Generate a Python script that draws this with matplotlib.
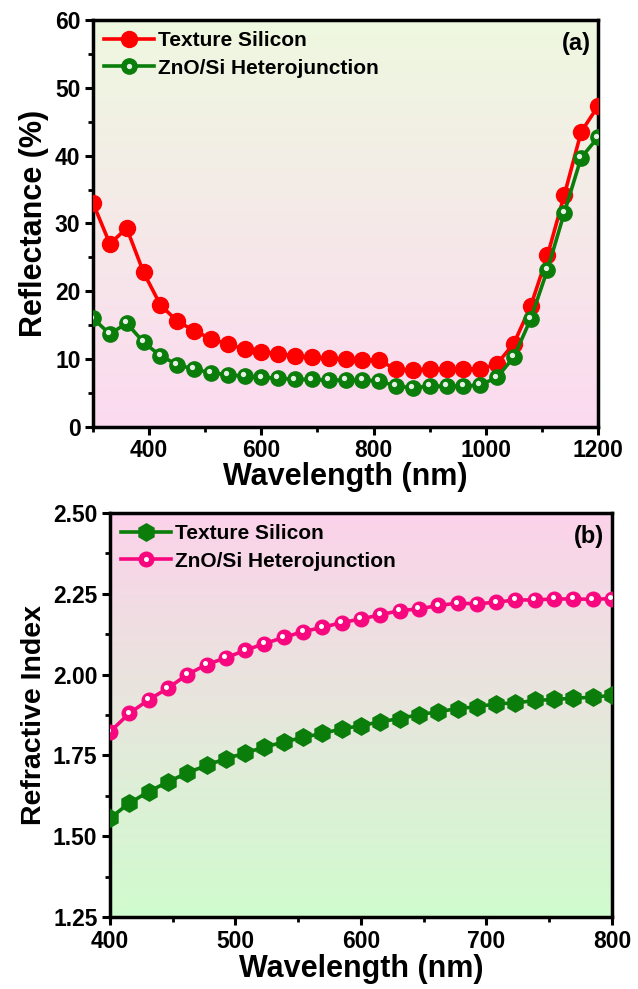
import numpy as np
import matplotlib
matplotlib.use("Agg")
import matplotlib.pyplot as plt
from matplotlib.colors import LinearSegmentedColormap
from matplotlib.legend_handler import HandlerTuple
from matplotlib.ticker import MultipleLocator
import matplotlib.transforms as mtransforms

plt.rcParams['font.family'] = ['Liberation Sans', 'DejaVu Sans']
plt.rcParams['font.weight'] = 'bold'

# (a) reflectance data
wl_a = [300, 330, 360, 390, 420, 450, 480, 510, 540, 570, 600, 630, 660, 690, 720, 750,
        780, 810, 840, 870, 900, 930, 960, 990, 1020, 1050, 1080, 1110, 1140, 1170, 1200]
refl_texture = [33.0, 27.0, 29.3, 22.8, 18.0, 15.6, 14.2, 13.0, 12.2, 11.5, 11.1, 10.8, 10.5,
                10.3, 10.1, 10.0, 9.9, 9.8, 8.5, 8.4, 8.5, 8.5, 8.5, 8.5, 9.3, 12.3, 17.8,
                25.3, 34.2, 43.5, 47.3]
refl_zno = [16.0, 13.7, 15.3, 12.5, 10.5, 9.2, 8.5, 8.0, 7.7, 7.5, 7.3, 7.2, 7.0, 7.0, 6.9,
            6.9, 6.9, 6.8, 6.0, 5.8, 6.0, 6.0, 6.0, 6.2, 7.3, 10.3, 15.9, 23.2, 31.6, 39.7, 42.7]

# (b) refractive index data
wl_b = np.linspace(400, 800, 27)
n_texture = [1.556, 1.602, 1.638, 1.668, 1.696, 1.719, 1.740, 1.757, 1.776, 1.791, 1.806,
             1.818, 1.832, 1.842, 1.854, 1.864, 1.876, 1.885, 1.895, 1.900, 1.910, 1.912,
             1.920, 1.923, 1.927, 1.930, 1.936]
n_zno = [1.823, 1.880, 1.922, 1.958, 2.000, 2.031, 2.052, 2.075, 2.096, 2.115, 2.133, 2.146,
         2.161, 2.172, 2.185, 2.198, 2.203, 2.214, 2.221, 2.219, 2.224, 2.231, 2.231, 2.234,
         2.234, 2.233, 2.235]

RED = '#FF0000'
GREEN = '#0A7D0A'
PINK = '#F7087F'


def gradient_bg(ax, top, bottom):
    cmap = LinearSegmentedColormap.from_list('bg', [bottom, top])
    grad = np.linspace(0, 1, 256).reshape(-1, 1)
    ax.imshow(grad, cmap=cmap, aspect='auto', extent=[0, 1, 0, 1],
              transform=ax.transAxes, origin='lower', zorder=0)


def style_axes(ax):
    for s in ax.spines.values():
        s.set_linewidth(2.5)
    ax.tick_params(which='major', direction='out', length=6, width=2.2,
                   labelsize=16.5, pad=3)
    ax.tick_params(which='minor', direction='out', length=3.5, width=2)
    for lab in ax.get_xticklabels() + ax.get_yticklabels():
        lab.set_fontweight('bold')


fig = plt.figure(figsize=(6.38, 9.89), dpi=100)
leg_kw = dict(handler_map={tuple: HandlerTuple(ndivide=1)}, loc='upper left',
              frameon=False, handlelength=2.4, handletextpad=0.15,
              borderaxespad=0.15, labelspacing=0.4, numpoints=1,
              prop={'weight': 'bold', 'size': 15})

# ---------- panel (a)
ax1 = fig.add_axes([0.1458, 0.5683, 0.7915, 0.4115])
gradient_bg(ax1, '#EEF8E0', '#FCDAF0')
hl = mtransforms.offset_copy(ax1.transData, fig=fig, x=-1.3, y=1.3, units='points')

l1, = ax1.plot(wl_a, refl_texture, '-o', color=RED, lw=2.6, ms=11.5, zorder=3)
l2, = ax1.plot(wl_a, refl_zno, '-o', color=GREEN, lw=2.6, ms=11, zorder=4)
d2, = ax1.plot(wl_a, refl_zno, 'o', color='white', ms=3.8, mec='none', alpha=0.9,
               transform=hl, zorder=5)
ax1.set_xlim(300, 1200)
ax1.set_ylim(0, 60)
ax1.set_xticks([400, 600, 800, 1000, 1200])
ax1.xaxis.set_minor_locator(MultipleLocator(100))
ax1.yaxis.set_major_locator(MultipleLocator(10))
ax1.yaxis.set_minor_locator(MultipleLocator(5))
ax1.set_xlabel('Wavelength (nm)', fontsize=22, fontweight='bold', labelpad=0)
ax1.set_ylabel('Reflectance (%)', fontsize=22, fontweight='bold', labelpad=4)
style_axes(ax1)
ax1.legend([l1, (l2, d2)], ['Texture Silicon', 'ZnO/Si Heterojunction'], **leg_kw)
ax1.text(0.985, 0.97, '(a)', transform=ax1.transAxes, ha='right', va='top',
         fontsize=17, fontweight='bold')

# ---------- panel (b)
ax2 = fig.add_axes([0.1724, 0.0728, 0.7868, 0.4085])
gradient_bg(ax2, '#FCD2EA', '#D0FCCE')
hl2 = mtransforms.offset_copy(ax2.transData, fig=fig, x=-1.1, y=1.1, units='points')

m1, = ax2.plot(wl_b, n_texture, '-h', color=GREEN, lw=2.6, ms=12.5, zorder=3)
m2, = ax2.plot(wl_b, n_zno, '-o', color=PINK, lw=2.6, ms=10.5, zorder=4)
e2, = ax2.plot(wl_b, n_zno, 'o', color='white', ms=3.6, mec='none',
               transform=hl2, zorder=5)
ax2.set_xlim(400, 800)
ax2.set_ylim(1.25, 2.5)
ax2.xaxis.set_major_locator(MultipleLocator(100))
ax2.xaxis.set_minor_locator(MultipleLocator(50))
ax2.yaxis.set_major_locator(MultipleLocator(0.25))
ax2.yaxis.set_minor_locator(MultipleLocator(0.125))
ax2.set_xlabel('Wavelength (nm)', fontsize=22, fontweight='bold', labelpad=1)
ax2.set_ylabel('Refractive Index', fontsize=20.5, fontweight='bold', labelpad=4)
style_axes(ax2)
ax2.tick_params(axis='x', which='major', pad=3)
ax2.legend([m1, (m2, e2)], ['Texture Silicon', 'ZnO/Si Heterojunction'], **leg_kw)
ax2.text(0.985, 0.97, '(b)', transform=ax2.transAxes, ha='right', va='top',
         fontsize=17, fontweight='bold')

fig.savefig('out.png', dpi=100)
